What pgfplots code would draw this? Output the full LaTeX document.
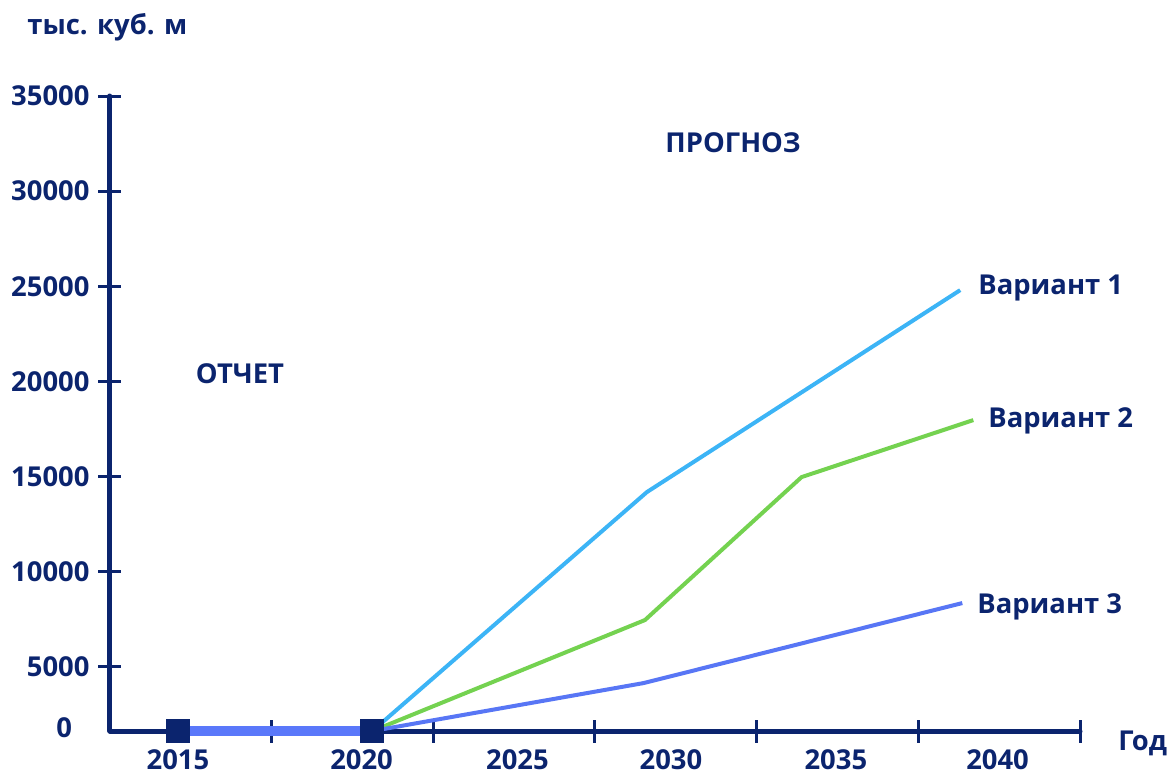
\documentclass[border=0pt]{standalone}
\usepackage{fontspec}
\setmainfont{Open Sans}
\usepackage{pgfplots}
\pgfplotsset{compat=1.18}
\definecolor{navy}{RGB}{11,36,110}
\definecolor{repblue}{RGB}{90,120,250}
\definecolor{v1}{RGB}{60,180,246}
\definecolor{v2}{RGB}{116,210,80}
\definecolor{v3}{RGB}{88,118,245}
\begin{document}
\begin{tikzpicture}[font=\bfseries\fontsize{13.7}{16}\selectfont]
\useasboundingbox (-55pt,-21pt) rectangle (530pt,365.5pt);
\begin{axis}[
  at={(0pt,0pt)}, anchor=south west,
  scale only axis, width=485pt, height=317.5pt,
  xmin=0, xmax=6, ymin=1630, ymax=35000,
  scaled y ticks=false, scaled x ticks=false,
  axis lines=left,
  axis line style={-, line width=2.5pt, navy, line cap=round},
  tick style={line width=1.5pt, navy},
  tick align=center, major tick length=11.5pt,
  xtick={1,2,3,4,5,6}, xticklabels={},
  extra x ticks={0.42,1.556,2.52,3.47,4.49,5.49},
  extra x tick labels={2015,2020,2025,2030,2035,2040},
  extra x tick style={major tick length=0pt, xticklabel style={inner sep=0pt, yshift=-9pt}},
  ytick={5000,10000,15000,20000,25000,30000,35000},
  yticklabels={5000,10000,15000,20000,25000,30000,35000},
  yticklabel style={xshift=-1pt},
  extra y ticks={1630}, extra y tick labels={0},
  extra y tick style={major tick length=0pt, yticklabel style={xshift=-14.5pt, yshift=1.5pt}},
  ticklabel style={font=\bfseries\fontsize{13.7}{16}\selectfont, text=navy},
  clip=false,
]
\addplot[line width=5pt, repblue] coordinates {(0.42,1630) (1.623,1630)};
\addplot[line width=2pt, v1] coordinates {(1.623,1630) (3.321,14186) (5.259,24799)};
\addplot[line width=2pt, v2] coordinates {(1.623,1630) (3.309,7461) (4.278,14974) (5.340,17969)};
\addplot[line width=2pt, v3] coordinates {(1.623,1630) (3.302,4151) (5.272,8354)};
\addplot[only marks, mark=square*, mark size=5.75pt, navy, mark options={draw=navy, fill=navy}] coordinates {(0.42,1630) (1.623,1630)};
\end{axis}
\begin{scope}[every node/.style={text=navy, inner sep=0pt}]
\node[anchor=base west] at (-41.5pt,348pt) {тыс. куб. м};
\node[anchor=base] at (311.5pt,289.5pt) {ПРОГНОЗ};
\node[anchor=base] at (65pt,174pt) {ОТЧЕТ};
\node[anchor=base west] at (434pt,218.5pt) {Вариант 1};
\node[anchor=base west] at (439pt,152pt) {Вариант 2};
\node[anchor=base west] at (433.5pt,59pt) {Вариант 3};
\node[anchor=base west] at (504pt,-9.5pt) {Год};
\end{scope}
\end{tikzpicture}
\end{document}
